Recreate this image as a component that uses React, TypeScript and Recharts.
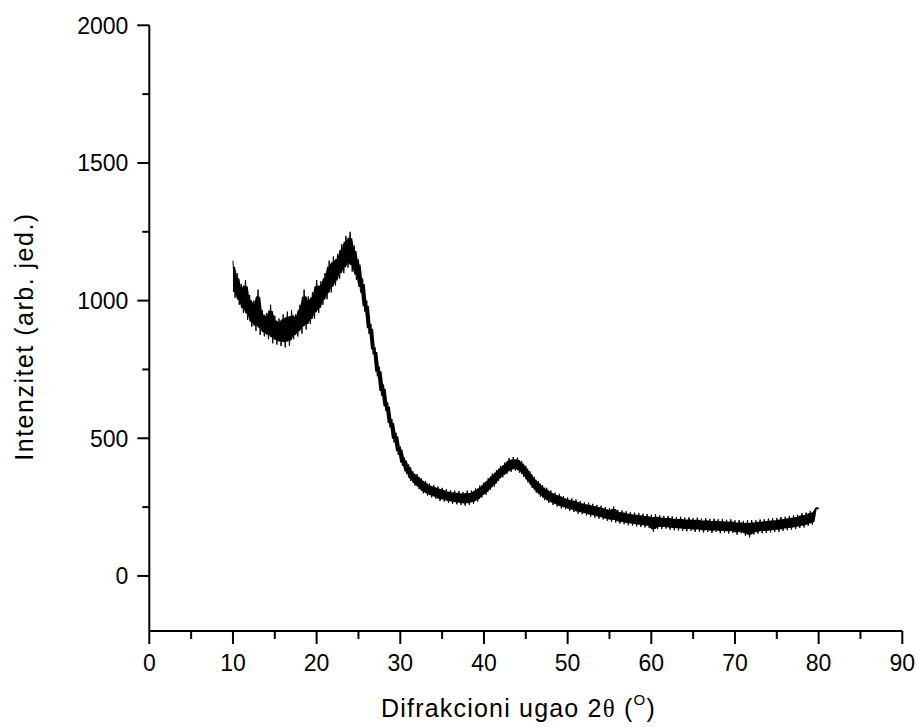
import React from "react";
import { ComposedChart, Line, Area, XAxis, YAxis, Label } from "recharts";

const ANGLE_START = 10;
const ANGLE_STEP = 0.25;

// Intensity, 2θ = 10.00 … 29.75 (step 0.25)
const intensityLow = [
  1145, 1010, 1100, 985, 1060, 955, 1075, 930, 1020, 905, 1000, 890,
  1040, 875, 965, 870, 955, 860, 985, 845, 945, 840, 935, 835,
  950, 830, 960, 835, 965, 860, 950, 870, 985, 880, 1040, 895,
  1015, 915, 1030, 935, 1075, 955, 1070, 985, 1100, 1005, 1145, 1030,
  1160, 1055, 1170, 1080, 1205, 1100, 1235, 1120, 1250, 1105, 1200, 1075,
  1150, 1030, 1080, 960, 1000, 880, 915, 805, 830, 725, 760, 655,
  695, 600, 630, 540, 570, 485, 520, 440,
];

// 2θ = 30.00 … 49.75
const intensityMid = [
  470, 400, 430, 370, 405, 345, 380, 328, 370, 315, 355, 300,
  345, 292, 335, 285, 330, 280, 325, 272, 320, 270, 315, 265,
  312, 262, 310, 260, 308, 258, 305, 255, 310, 258, 310, 262,
  318, 270, 328, 285, 340, 295, 355, 312, 372, 325, 385, 345,
  400, 358, 412, 370, 428, 378, 432, 382, 430, 375, 418, 360,
  400, 340, 380, 320, 360, 302, 345, 288, 330, 275, 320, 265,
  310, 258, 302, 252, 298, 245, 290, 242,
];

// 2θ = 50.00 … 80.00
const intensityHigh = [
  285, 236, 282, 232, 278, 226, 272, 224, 268, 220, 266, 215,
  262, 212, 258, 208, 255, 205, 250, 200, 246, 196, 252, 194,
  240, 190, 238, 188, 235, 184, 232, 183, 230, 180, 228, 178,
  226, 176, 225, 174, 222, 160, 224, 170, 220, 170, 218, 172,
  218, 168, 216, 166, 214, 165, 215, 164, 212, 162, 213, 164,
  210, 160, 212, 161, 208, 158, 210, 160, 207, 156, 208, 160,
  206, 155, 207, 157, 204, 154, 206, 156, 202, 150, 203, 155,
  200, 146, 202, 140, 203, 150, 202, 154, 205, 155, 206, 156,
  208, 158, 210, 160, 210, 160, 214, 164, 215, 166, 218, 168,
  220, 170, 222, 174, 228, 176, 230, 182, 236, 186, 240, 250,
  242,
];

const xTicks = [0, 5, 10, 15, 20, 25, 30, 35, 40, 45, 50, 55, 60, 65, 70, 75, 80, 85, 90];
const yTicks = [0, 250, 500, 750, 1000, 1250, 1500, 1750, 2000];

const intensities = [...intensityLow, ...intensityMid, ...intensityHigh];
const data = intensities.map((v, i) => {
  const a = intensities[Math.max(0, i - 1)];
  const c = intensities[Math.min(intensities.length - 1, i + 1)];
  const lo = Math.min(a, v, c);
  const hi = Math.max(a, v, c);
  const r = hi - lo;
  return {
    angle: ANGLE_START + i * ANGLE_STEP,
    intensity: v,
    core: [lo + 0.16 * r, hi - 0.16 * r],
  };
});

const FONT = "'Liberation Sans', Arial, sans-serif";

const XTick = (props: any) => {
  const { x, y, payload } = props;
  const v = payload.value;
  const major = v % 10 === 0;
  return (
    <g>
      <line x1={x} x2={x} y1={y} y2={y + (major ? 13 : 8)} stroke="#000" strokeWidth={2} />
      {major && (
        <text x={x} y={y + 40} textAnchor="middle" fontFamily={FONT} fontSize={23} fill="#000">
          {v}
        </text>
      )}
    </g>
  );
};

const YTick = (props: any) => {
  const { x, y, payload } = props;
  const v = payload.value;
  const major = v % 500 === 0;
  return (
    <g>
      <line x1={x} x2={x - (major ? 12 : 7)} y1={y} y2={y} stroke="#000" strokeWidth={2} />
      {major && (
        <text x={x - 21} y={y} dy="0.36em" textAnchor="end" fontFamily={FONT} fontSize={23} fill="#000">
          {v}
        </text>
      )}
    </g>
  );
};

const XTitle = () => (
  <text x={381} y={717} fontFamily={FONT} fontSize={25} letterSpacing={1.2} fill="#000">
    Difrakcioni ugao 2
    <tspan fontFamily="'Liberation Serif', serif">θ</tspan>
    {" ("}
    <tspan fontSize={15} dy={-12}>O</tspan>
    <tspan dy={12}>)</tspan>
  </text>
);

const YTitle = () => (
  <text
    x={33}
    y={336.5}
    textAnchor="middle"
    transform="rotate(-90, 33, 336.5)"
    fontFamily={FONT}
    fontSize={25}
    letterSpacing={1.5}
    fill="#000"
  >
    Intenzitet (arb. jed.)
  </text>
);

export default function App() {
  return (
    <div style={{ position: "absolute", left: 0, top: 0, width: 916, height: 727, background: "#fff" }}>
      <ComposedChart
        width={916}
        height={727}
        data={data}
        margin={{ top: 25.3, right: 13.7, bottom: 0, left: 0 }}
      >
        <XAxis
          dataKey="angle"
          type="number"
          domain={[0, 90]}
          ticks={xTicks}
          interval={0}
          height={96}
          tickSize={0}
          tickMargin={0}
          tickLine={false}
          axisLine={{ stroke: "#000", strokeWidth: 2 }}
          tick={(p: any) => <XTick {...p} />}
        >
          <Label content={() => <XTitle />} />
        </XAxis>
        <YAxis
          type="number"
          domain={[-200, 2000]}
          ticks={yTicks}
          interval={0}
          width={149.3}
          tickSize={0}
          tickMargin={0}
          tickLine={false}
          axisLine={{ stroke: "#000", strokeWidth: 2 }}
          tick={(p: any) => <YTick {...p} />}
        >
          <Label content={() => <YTitle />} />
        </YAxis>
        <Area
          dataKey="core"
          type="linear"
          fill="#000"
          fillOpacity={1}
          stroke="none"
          isAnimationActive={false}
        />
        <Line
          dataKey="intensity"
          type="linear"
          stroke="#000"
          strokeWidth={1}
          dot={false}
          isAnimationActive={false}
        />
      </ComposedChart>
    </div>
  );
}
